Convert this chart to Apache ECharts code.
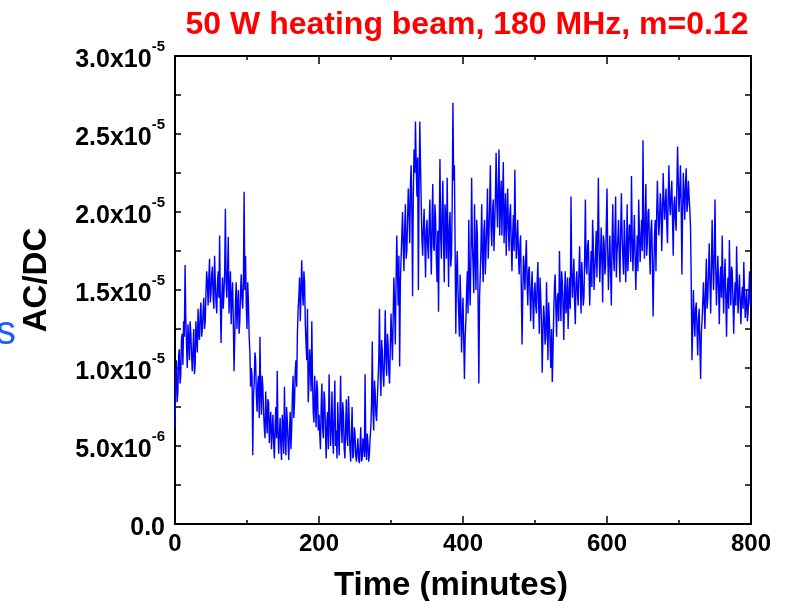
<!DOCTYPE html>
<html>
<head>
<meta charset="utf-8">
<script src="https://cdn.jsdelivr.net/npm/echarts@6/dist/echarts.min.js"></script>
<style>
html,body{margin:0;padding:0;background:#fff;}
#chart{width:788px;height:601px;}
</style>
</head>
<body>
<div id="chart"></div>
<script>
// Title and axis texts
const titleText = '50 W heating beam, 180 MHz, m=0.12';
const xAxisTitle = 'Time (minutes)';
const yAxisTitle = 'AC/DC';
const sideFragment = 's';

// X axis ticks (minutes)
const xTickValues = [0, 200, 400, 600, 800];

// Y tick labels: mantissa "x10" and exponent
const yTickMantissa = ['0.0', '5.0x10', '1.0x10', '1.5x10', '2.0x10', '2.5x10', '3.0x10'];
const yTickExponent = ['', '-6', '-5', '-5', '-5', '-5', '-5'];

// Sampling of the measured series
const sampleStepMinutes = 1;      // one sample per minute, starting at 0
const valueUnit = 1e-5;           // values below are in units of 1e-5

// AC/DC values (x1e-5), each row = 40 minutes
const acdcValues = [
  0.62,0.95,1.05,0.78,0.85,1.08,1.12,0.90,0.95,1.18,1.22,1.02,1.30,1.20,1.66,1.32,1.15,1.00,1.28,1.18,1.05,1.30,1.22,1.08,0.98,1.12,1.25,0.96,1.02,1.30,1.20,1.10,1.38,1.22,1.18,1.35,1.42,1.20,1.25,1.36,
  1.45,1.25,1.30,1.48,1.62,1.55,1.40,1.58,1.70,1.42,1.48,1.60,1.65,1.45,1.38,1.72,1.55,1.42,1.35,1.55,1.62,1.45,1.85,1.40,1.16,1.45,1.58,1.38,1.48,1.62,2.02,1.55,1.45,1.62,1.84,1.35,1.50,1.62,1.28,1.45,
  1.55,1.30,0.98,1.20,1.42,1.55,1.25,1.40,1.50,1.22,1.30,1.48,1.60,1.45,1.38,1.55,2.13,1.50,1.72,1.40,1.25,1.55,1.42,1.20,1.10,0.88,1.00,0.95,0.44,0.82,0.90,1.10,1.05,0.82,0.72,0.90,0.95,0.68,1.20,0.85,
  0.70,0.95,0.88,0.72,0.62,0.55,0.85,0.68,0.58,0.80,0.78,0.52,0.65,0.72,0.48,0.60,0.70,0.52,0.42,0.62,0.75,0.55,0.98,0.60,0.45,0.58,0.68,0.50,0.41,0.70,0.62,0.45,0.88,0.58,0.44,0.75,0.66,0.52,0.41,0.60,
  0.72,0.48,0.60,0.82,0.95,0.68,0.78,0.98,1.05,0.88,1.22,1.38,1.45,1.58,1.30,1.48,1.69,1.50,1.40,1.62,1.55,1.28,1.15,1.05,1.38,0.78,0.90,1.12,1.02,0.85,1.30,0.92,0.72,0.65,0.95,0.78,0.62,0.92,0.85,0.60,
  0.70,0.58,0.48,0.75,0.90,0.62,0.55,0.85,0.80,0.58,0.42,0.66,0.72,0.48,0.96,0.70,0.50,0.62,0.85,0.55,0.45,0.72,0.92,0.50,0.60,0.42,0.78,0.60,0.44,0.68,0.95,0.62,0.52,0.78,0.70,0.48,0.42,0.62,0.80,0.55,
  0.50,0.82,0.66,0.48,0.40,0.58,0.75,0.42,0.45,0.62,0.58,0.44,0.40,0.48,0.55,0.42,0.39,0.50,0.62,0.40,0.42,0.55,0.50,0.43,0.96,0.48,0.41,0.58,0.52,0.40,0.45,0.55,0.62,0.78,1.17,0.72,0.60,0.92,0.85,0.70,
  0.66,0.80,0.92,1.05,1.38,0.98,0.82,1.18,1.10,0.95,0.88,1.08,1.37,1.05,0.95,1.22,1.15,0.98,0.90,1.12,1.35,1.20,1.05,1.32,1.58,1.40,1.15,1.55,1.85,1.62,1.40,1.72,1.01,1.55,1.70,1.85,2.00,1.78,1.62,1.90,
  2.05,1.70,1.75,1.95,2.15,2.00,1.80,2.18,2.30,1.98,1.46,2.12,2.40,2.25,2.58,2.30,2.10,2.35,1.50,2.15,2.58,2.30,2.05,1.82,1.72,1.90,2.02,1.80,1.58,1.88,1.95,1.78,1.70,1.92,2.08,1.80,1.60,1.95,2.18,1.78,
  1.75,2.05,1.95,1.70,1.55,1.88,1.36,1.90,2.34,1.85,1.70,2.00,2.20,1.82,1.55,2.05,1.95,1.70,2.22,1.85,1.52,1.90,2.00,1.65,1.72,2.05,2.70,2.20,2.30,1.80,1.22,1.62,1.75,1.50,1.35,1.20,1.60,1.42,1.10,1.30,
  1.45,1.18,0.93,1.20,1.30,1.48,1.62,1.35,1.95,1.55,1.40,1.72,2.22,1.80,1.65,1.48,2.05,1.72,1.50,1.95,1.85,1.40,0.90,1.45,1.60,1.78,2.05,1.70,1.55,1.88,1.95,1.60,1.75,1.92,2.15,1.70,1.85,2.05,2.30,1.90,
  1.78,2.00,2.08,1.75,1.92,2.10,2.38,2.05,1.90,2.18,2.40,1.85,2.05,2.20,1.85,2.10,2.32,1.80,1.95,2.12,1.72,1.95,2.15,1.90,1.75,1.98,2.05,1.80,1.62,1.85,1.98,1.75,2.27,1.90,1.70,1.82,1.95,1.72,1.60,1.78,
  1.85,1.50,1.15,1.45,1.72,1.62,1.50,1.70,1.82,1.55,1.40,1.62,1.65,1.48,1.30,1.50,1.62,1.42,1.25,1.48,1.55,1.40,1.35,1.55,1.68,1.42,1.22,1.58,1.45,1.30,0.97,1.22,1.40,1.32,1.15,1.20,1.55,1.30,1.05,1.42,
  1.30,1.15,1.00,1.25,0.91,1.10,1.35,1.52,1.60,1.38,1.20,1.45,1.48,1.30,1.75,1.48,1.30,1.62,1.55,1.38,1.18,1.48,1.62,1.35,1.40,1.58,1.25,1.45,1.58,1.38,2.10,1.62,1.45,1.58,1.70,1.42,1.28,1.55,1.62,1.48,
  1.40,1.62,1.78,1.55,1.35,1.68,1.55,1.40,1.45,1.72,2.08,1.65,1.60,1.78,1.82,1.62,1.40,1.60,1.75,1.52,1.95,1.80,1.50,1.62,1.72,1.88,1.58,1.82,2.22,1.75,1.55,1.72,1.90,1.68,1.42,1.85,1.80,1.60,1.65,1.92,
  2.15,1.75,1.50,1.68,1.85,1.62,1.40,1.80,2.05,1.72,1.62,1.88,2.10,1.58,1.75,1.82,1.95,1.72,1.55,1.88,2.12,1.85,1.70,1.60,1.95,1.80,1.55,1.72,2.05,1.62,1.75,1.92,1.90,1.68,2.23,1.85,1.62,1.80,1.98,1.72,
  1.50,1.70,1.85,1.62,2.08,1.88,1.68,1.82,1.95,1.75,2.46,1.90,1.70,1.95,2.18,1.72,1.80,2.00,2.02,1.75,1.60,1.88,1.95,1.70,1.33,1.62,1.85,1.95,1.62,1.98,2.20,2.00,1.85,1.95,2.12,2.05,1.75,1.92,2.25,2.08,
  1.95,2.05,2.15,1.92,1.80,2.10,2.30,2.05,1.98,2.12,2.20,1.95,1.72,2.05,2.10,1.95,1.88,2.15,2.42,2.20,2.00,2.12,2.30,2.05,1.60,2.00,2.25,2.10,1.95,2.18,2.28,2.00,2.05,2.20,2.10,2.02,1.90,1.55,1.05,1.25,
  1.50,1.32,1.20,1.38,1.42,1.25,1.08,1.30,1.38,1.15,0.93,1.22,1.30,1.42,1.55,1.40,1.25,1.52,1.70,1.38,1.45,1.62,1.80,1.55,1.35,1.62,1.95,1.68,1.50,1.72,2.08,1.65,1.40,1.58,1.72,1.50,1.28,1.58,1.65,1.45,
  1.85,1.55,1.35,1.58,1.70,1.45,1.20,1.48,1.58,1.38,1.82,1.55,1.40,1.65,1.62,1.42,1.22,1.45,1.55,1.40,1.78,1.55,1.35,1.48,1.60,1.42,1.28,1.45,1.52,1.38,1.68,1.48,1.32,1.42,1.50,1.30,1.36,1.48,1.62,1.40,
  1.45
];

const seriesData = acdcValues.map((v, i) => [i * sampleStepMinutes, v * valueUnit]);

const FONT = '"Liberation Sans", Arial, sans-serif';
const chart = echarts.init(document.getElementById('chart'), null, {renderer: 'canvas'});

const yInterval = 5e-6;
function yLabel(v) {
  const i = Math.round(v / yInterval);
  const m = yTickMantissa[i];
  const e = yTickExponent[i];
  if (m === undefined) return '';
  return e ? '{m|' + m + '}{s|' + e + '}' : '{m|' + m + '}';
}

const xCommon = {
  type: 'value', min: 0, max: 800, interval: 200,
  axisLine: {show: true, onZero: false, lineStyle: {color: '#000', width: 2}},
  splitLine: {show: false},
  minorTick: {show: true, splitNumber: 2, length: 4, lineStyle: {color: '#000', width: 1.5}},
  axisTick: {show: true, inside: true, length: 8, lineStyle: {color: '#000', width: 1.5}}
};
const yCommon = {
  type: 'value', min: 0, max: 3e-5, interval: yInterval,
  axisLine: {show: true, onZero: false, lineStyle: {color: '#000', width: 2}},
  splitLine: {show: false},
  minorTick: {show: true, splitNumber: 2, length: 6, lineStyle: {color: '#000', width: 1.5}},
  axisTick: {show: true, inside: true, length: 6, lineStyle: {color: '#000', width: 1.5}}
};

chart.setOption({
  animation: false,
  backgroundColor: '#fff',
  title: {
    text: titleText,
    left: 462, top: 4, textAlign: 'center',
    textStyle: {color: '#ff0000', fontFamily: FONT, fontWeight: 'bold', fontSize: 32}
  },
  grid: {left: 175, right: 37, top: 56, bottom: 77, containLabel: false},
  xAxis: [
    Object.assign({}, xCommon, {
      position: 'bottom',
      axisLabel: {show: true, margin: 8, color: '#000', fontFamily: FONT, fontWeight: 'bold', fontSize: 24,
        formatter: v => (xTickValues.indexOf(v) >= 0 ? String(v) : '')}
    }),
    Object.assign({}, xCommon, {position: 'top', axisLabel: {show: false}})
  ],
  yAxis: [
    Object.assign({}, yCommon, {
      position: 'left',
      axisLabel: {
        show: true, margin: 10, formatter: yLabel, color: '#000',
        rich: {
          m: {fontFamily: FONT, fontWeight: 'bold', fontSize: 25, color: '#000', lineHeight: 34, verticalAlign: 'bottom'},
          s: {fontFamily: FONT, fontWeight: 'bold', fontSize: 15, color: '#000', lineHeight: 15, verticalAlign: 'top'}
        }
      }
    }),
    Object.assign({}, yCommon, {position: 'right', axisLabel: {show: false}})
  ],
  graphic: [
    {type: 'text', x: 451, y: 586, z: 10,
     style: {text: xAxisTitle, textAlign: 'center', textVerticalAlign: 'middle',
       fontFamily: FONT, fontWeight: 'bold', fontSize: 33, fill: '#000'}},
    {type: 'text', x: 37, y: 280, rotation: Math.PI / 2, z: 10,
     style: {text: yAxisTitle, textAlign: 'center', textVerticalAlign: 'middle',
       fontFamily: FONT, fontWeight: 'bold', fontSize: 33, fill: '#000'}},
    {type: 'text', x: 16, y: 333, z: 10,
     style: {text: sideFragment, textAlign: 'right', textVerticalAlign: 'middle',
       fontFamily: FONT, fontSize: 40, fill: '#1f5cff'}}
  ],
  series: [{
    type: 'line', xAxisIndex: 0, yAxisIndex: 0,
    data: seriesData, showSymbol: false, symbol: 'none', sampling: null,
    lineStyle: {color: '#0000ff', width: 1.4},
    itemStyle: {color: '#0000ff'},
    silent: true
  }]
});
</script>
</body>
</html>
